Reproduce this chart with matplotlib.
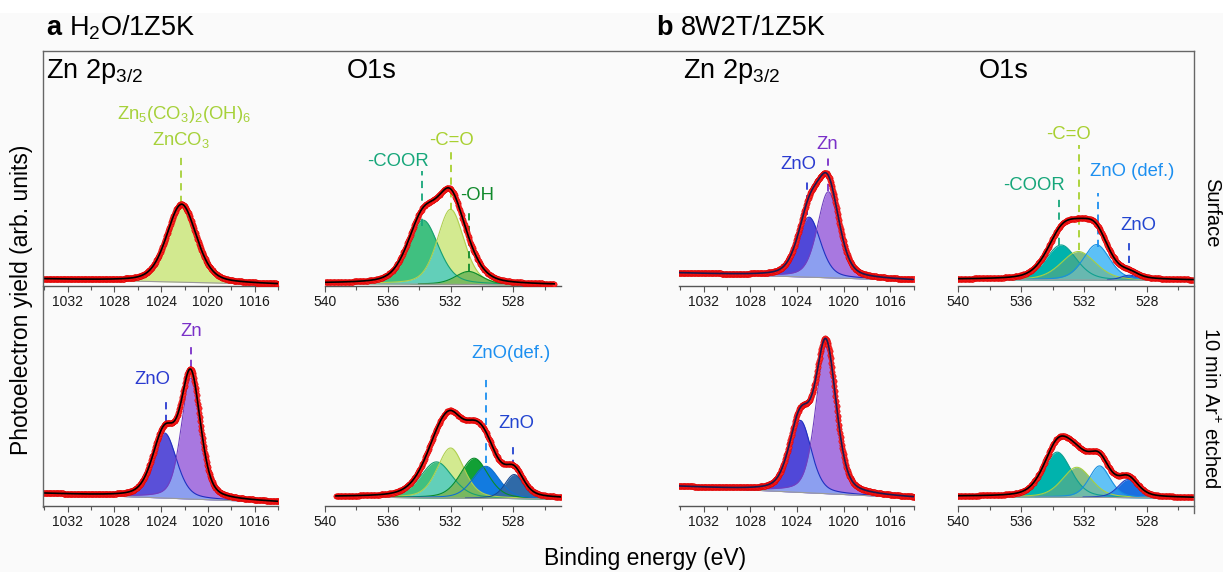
import numpy as np
import matplotlib.pyplot as plt
from matplotlib.lines import Line2D
from matplotlib.patches import Rectangle
from matplotlib.ticker import MultipleLocator

plt.rcParams['font.family'] = ['Liberation Sans', 'DejaVu Sans']
plt.rcParams['mathtext.fontset'] = 'custom'
plt.rcParams['mathtext.rm'] = 'Liberation Sans'
plt.rcParams['mathtext.it'] = 'Liberation Sans:italic'
plt.rcParams['mathtext.bf'] = 'Liberation Sans:bold'

# Data ------------------------------------------------------------------------
# range: binding energy of first/last point (eV); bg: background at both ends
# components: centre (eV), height above background (arb.), FWHM (eV)

# a  H2O/1Z5K, surface
aZnS_range = [1034.1, 1013.8]
aZnS_bg = [7.0, 1.5]
aZnS_names = ['ZnCO3']
aZnS_center = [1022.25]
aZnS_height = [78]
aZnS_fwhm = [3.0]

aOS_range = [540.0, 525.4]
aOS_bg = [2.5, 1.0]
aOS_names = ['COOR', 'C=O', 'OH']
aOS_center = [533.75, 532.0, 530.85]
aOS_height = [64, 75, 13]
aOS_fwhm = [2.3, 2.0, 2.0]

# b  8W2T/1Z5K, surface
bZnS_range = [1034.3, 1013.9]
bZnS_bg = [13.0, 5.5]
bZnS_names = ['ZnO', 'Zn']
bZnS_center = [1022.95, 1021.3]
bZnS_height = [60, 86]
bZnS_fwhm = [2.3, 2.2]

bOS_range = [540.1, 525.0]
bOS_bg = [6.5, 5.5]
bOS_names = ['COOR', 'C=O', 'ZnO def', 'ZnO']
bOS_center = [533.45, 532.35, 531.2, 529.1]
bOS_height = [35, 28.5, 35.5, 5]
bOS_fwhm = [2.3, 2.6, 2.0, 1.3]

# a  H2O/1Z5K, 10 min Ar+ etched
aZnE_range = [1034.1, 1013.6]
aZnE_bg = [12.0, 3.0]
aZnE_names = ['ZnO', 'Zn']
aZnE_center = [1023.7, 1021.45]
aZnE_height = [65, 121]
aZnE_fwhm = [2.4, 1.95]

aOE_range = [539.3, 524.7]
aOE_bg = [8.5, 6.5]
aOE_names = ['COOR', 'C=O', 'OH', 'ZnO def', 'ZnO']
aOE_center = [532.9, 532.0, 530.5, 529.75, 527.95]
aOE_height = [36, 50, 40, 32, 24]
aOE_fwhm = [2.4, 2.0, 2.1, 2.0, 1.4]

# b  8W2T/1Z5K, 10 min Ar+ etched
bZnE_range = [1034.2, 1013.8]
bZnE_bg = [19.0, 7.5]
bZnE_names = ['ZnO', 'Zn']
bZnE_center = [1023.7, 1021.5]
bZnE_height = [72, 147]
bZnE_fwhm = [2.2, 2.05]

bOE_range = [540.1, 525.0]
bOE_bg = [9.0, 7.5]
bOE_names = ['COOR', 'C=O', 'ZnO def', 'ZnO']
bOE_center = [533.7, 532.45, 531.0, 529.2]
bOE_height = [45, 30, 31.5, 18]
bOE_fwhm = [2.1, 2.2, 1.6, 1.5]

# Styles ----------------------------------------------------------------------
W, H = 1223, 572
ZN_LIM = (1034.1, 1014.0)
O_LIM = (540.0, 525.0)

c_carb = '#a6d13a'
c_coor = '#16a67a'
c_co = '#a8d030'
c_oh = '#118a2c'
c_def = '#1c8ff0'
c_zno = '#2a3ad0'
c_zn = '#7a30c8'

fills = {
    'aZnS': ['#d2e98f'],
    'aOS': ['#40c080', '#d3ea90', '#1aa63a'],
    'bZnS': ['#5048d8', '#a878e0'],
    'bOS': ['#00b2ac', '#80bc86', '#5cc0f7', '#1a5fd0'],
    'aZnE': ['#5a50d8', '#a878e0'],
    'aOE': ['#40c080', '#d3ea90', '#12a035', '#127be0', '#2f6aa8'],
    'bZnE': ['#5048d8', '#a878e0'],
    'bOE': ['#00b3ad', '#86bd86', '#62c2f6', '#1a6fe0'],
}
edges = {
    'aZnS': ['#c89a30'],
    'aOS': ['#18a070', '#b0d050', '#0a8a2a'],
    'bZnS': ['#2030c0', '#7040c0'],
    'bOS': ['#10a090', '#a8d040', '#1890e0', '#1a40c0'],
    'aZnE': ['#2030c0', '#7040c0'],
    'aOE': ['#18a070', '#b0d050', '#0a8a2a', '#1070d0', '#1a4a90'],
    'bZnE': ['#2030c0', '#7040c0'],
    'bOE': ['#10a090', '#a8d040', '#1890e0', '#1a40c0'],
}
overlaps = {
    'aOS': [(0, 1, '#62cfb9'), (1, 2, '#7cbc60')],
    'bZnS': [(0, 1, '#8c9ff0')],
    'bOS': [(0, 1, '#3aaa92'), (1, 2, '#68b8b0')],
    'aZnE': [(0, 1, '#8c9ff0')],
    'aOE': [(0, 1, '#62cfb9'), (1, 2, '#78b860')],
    'bZnE': [(0, 1, '#8c9ff0')],
    'bOE': [(0, 1, '#3fae95'), (1, 2, '#70bba8'), (2, 3, '#2a90e8')],
}
fitline = {'bZnS': '#1a1a50', 'bZnE': '#1a1a50'}

# (text, text x eV, text y, marker eV, marker top, marker bottom, colour)
notes = {
    'aZnS': [('Zn$_5$(CO$_3$)$_2$(OH)$_6$', 1022.05, 171.5, None, 0, 0, c_carb),
             ('ZnCO$_3$', 1022.3, 145.5, 1022.3, 133.5, 83.5, c_carb)],
    'aOS': [('-COOR', 535.38, 125, 533.8, 114.8, 59.8, c_coor),
            ('-C=O', 531.93, 145.5, 532.0, 134.8, 76.5, c_co),
            ('-OH', 530.3, 90.5, 530.8, 73.5, 14.8, c_oh)],
    'bZnS': [('ZnO', 1023.85, 121.5, 1023.1, 106.5, 70.8, c_zno),
             ('Zn', 1021.4, 141.5, 1021.3, 129.8, 94.8, c_zn)],
    'bOS': [('-C=O', 533.0, 151.5, 532.3, 141.5, 36.5, c_co),
            ('-COOR', 535.18, 100, 533.6, 88.5, 41.5, c_coor),
            ('ZnO (def.)', 528.93, 115, 531.1, 93.5, 39.5, c_def),
            ('ZnO', 528.55, 60.5, 529.1, 46.5, 23.5, '#2244d0')],
    'aZnE': [('ZnO', 1024.74, 125.5, 1023.6, 108.8, 83.8, c_zno),
             ('Zn', 1021.4, 174, 1021.45, 162.5, 138.5, c_zn)],
    'aOE': [('ZnO(def.)', 528.15, 152, 529.75, 128.5, 42.5, c_def),
            ('ZnO', 527.83, 82.5, 528.0, 63.8, 38.8, '#2244d0')],
}


def fx(x):
    return x / W


def fy(y):
    return 1 - y / H


def pv(e, c, h, w, eta=0.35):
    u = 4 * (e - c) ** 2 / w ** 2
    return h * ((1 - eta) * np.exp(-np.log(2) * u) + eta / (1 + u))


def panel(key, x0, ybot, hgt, lim, rng, bg, center, height, fwhm):
    wpx = abs(lim[0] - lim[1]) * (11.67 if lim[0] > 1000 else 15.7)
    ax = fig.add_axes([fx(x0), fy(ybot), wpx / W, hgt / H])
    ax.set_xlim(*lim)
    ax.set_ylim(0, hgt)
    ax.patch.set_visible(False)
    for s in ('left', 'right', 'top'):
        ax.spines[s].set_visible(False)
    ax.spines['bottom'].set_color('#555555')
    ax.spines['bottom'].set_linewidth(1.0)
    ax.set_yticks([])
    ax.xaxis.set_major_locator(MultipleLocator(4))
    ax.xaxis.set_minor_locator(MultipleLocator(2))
    ax.tick_params(axis='x', which='major', length=4, width=0.8, color='#555555',
                   labelsize=10, labelcolor='#1a1a1a', pad=2.5)
    ax.tick_params(axis='x', which='minor', length=3, width=0.8, color='#555555')

    e = np.arange(rng[0], rng[1], -0.05)
    base = bg[0] + (bg[1] - bg[0]) * (e - rng[0]) / (rng[1] - rng[0])
    comps = [pv(e, c, h, w) for c, h, w in zip(center, height, fwhm)]
    for comp, fc in zip(comps, fills[key]):
        ax.fill_between(e, base, base + comp, where=comp > 0.3, color=fc,
                        lw=0, zorder=1)
    for i, j, col in overlaps.get(key, []):
        m = np.minimum(comps[i], comps[j])
        ax.fill_between(e, base, base + m, where=m > 0.3, color=col, lw=0,
                        zorder=1.5)
    for comp, ec in zip(comps, edges[key]):
        m = comp > 0.4
        ax.plot(e[m], (base + comp)[m], color=ec, lw=0.8, zorder=2)
    ax.plot(e, base, color='#9a9a9a', lw=0.8, zorder=2)

    for txt, tx, ty, le, lt, lb, col in notes.get(key, []):
        ax.text(tx, ty, txt, ha='center', va='center', color=col, fontsize=13.3)
        if le is not None:
            ax.plot([le, le], [lb, lt], color=col, lw=1.3, ls=(0, (4, 3)),
                    zorder=3)

    total = base + np.sum(comps, axis=0)
    ax.plot(e, total, 'o', ms=3.8, mfc='#ff2a2a', mec='#e00000', mew=0.4,
            zorder=4)
    ax.plot(e, total, color=fitline.get(key, 'black'), lw=1.2, zorder=5)
    return ax


fig = plt.figure(figsize=(W / 100, H / 100), dpi=100, facecolor='#fafafa')
fig.add_artist(Rectangle((0, fy(13)), 1, 13 / H, transform=fig.transFigure,
                         color='white', lw=0, zorder=-1))

top, top_h = 286.0, 235.0
bot, bot_h = 505.5, 205.5
panel('aZnS', 43.3, top, top_h, ZN_LIM, aZnS_range, aZnS_bg,
      aZnS_center, aZnS_height, aZnS_fwhm)
panel('aOS', 325.0, top, top_h, O_LIM, aOS_range, aOS_bg,
      aOS_center, aOS_height, aOS_fwhm)
panel('bZnS', 679.0, top, top_h, ZN_LIM, bZnS_range, bZnS_bg,
      bZnS_center, bZnS_height, bZnS_fwhm)
panel('bOS', 958.3, top, top_h, O_LIM, bOS_range, bOS_bg,
      bOS_center, bOS_height, bOS_fwhm)
panel('aZnE', 43.3, bot, bot_h, ZN_LIM, aZnE_range, aZnE_bg,
      aZnE_center, aZnE_height, aZnE_fwhm)
panel('aOE', 325.0, bot, bot_h, O_LIM, aOE_range, aOE_bg,
      aOE_center, aOE_height, aOE_fwhm)
panel('bZnE', 679.0, bot, bot_h, ZN_LIM, bZnE_range, bZnE_bg,
      bZnE_center, bZnE_height, bZnE_fwhm)
panel('bOE', 958.3, bot, bot_h, O_LIM, bOE_range, bOE_bg,
      bOE_center, bOE_height, bOE_fwhm)

# outer frame
fcol = '#666666'
fig.add_artist(Line2D([fx(43.3), fx(43.3)], [fy(51), fy(506.5)], color=fcol, lw=1))
fig.add_artist(Line2D([fx(43.3), fx(1193.8)], [fy(51), fy(51)], color=fcol, lw=1))
fig.add_artist(Line2D([fx(1193.8), fx(1193.8)], [fy(51), fy(513)], color=fcol, lw=1))

# headers and panel titles
big = 19.5
fig.text(fx(46.4), fy(35), 'a', fontsize=big, fontweight='bold', va='baseline')
fig.text(fx(69.2), fy(35), 'H$_2$O/1Z5K', fontsize=big, va='baseline')
fig.text(fx(656.4), fy(35), 'b', fontsize=big, fontweight='bold', va='baseline')
fig.text(fx(680.4), fy(35), '8W2T/1Z5K', fontsize=big, va='baseline')
fig.text(fx(46.4), fy(78.3), 'Zn 2p$_{3/2}$', fontsize=big, va='baseline')
fig.text(fx(346.5), fy(78.3), 'O1s', fontsize=big, va='baseline')
fig.text(fx(683.1), fy(78.3), 'Zn 2p$_{3/2}$', fontsize=big, va='baseline')
fig.text(fx(979.0), fy(78.3), 'O1s', fontsize=big, va='baseline')

fig.text(fx(1212), fy(213), 'Surface', fontsize=14.5, rotation=270,
         ha='center', va='center')
fig.text(fx(1210), fy(408), '10 min Ar$^{+}$ etched', fontsize=14.5,
         rotation=270, ha='center', va='center')
fig.text(fx(22), fy(300), 'Photoelectron yield (arb. units)', fontsize=16.5,
         rotation=90, ha='center', va='center')
fig.text(fx(645), fy(558), 'Binding energy (eV)', fontsize=16.5,
         ha='center', va='center')

fig.savefig('out.png', dpi=100, facecolor=fig.get_facecolor())
